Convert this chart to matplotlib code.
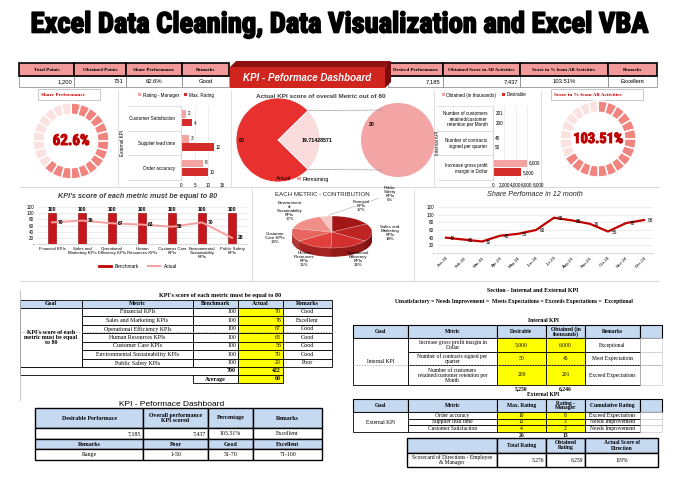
import matplotlib
matplotlib.use('Agg')
import matplotlib.pyplot as plt
import matplotlib.patheffects as pe
from matplotlib.patches import Rectangle, Polygon, ConnectionPatch
from matplotlib.lines import Line2D
import numpy as np

W, H = 680, 479

SANS = ['Liberation Sans', 'DejaVu Sans']
SERIF = ['Liberation Serif', 'DejaVu Serif']
NARROW = ['Liberation Sans Narrow', 'Roboto Condensed', 'DejaVu Sans']
plt.rcParams['font.family'] = SANS

# ---- data ----
title = 'Excel Data Cleaning, Data Visualization and Excel VBA'

top_left_heads = ['Total Points', 'Obtained Points', 'Share Performance', 'Remarks']
top_left_vals = ['1,200', '751', '62.6%', 'Good']
top_right_heads = ['Desired Performance', 'Obtained Score in All Activities',
                   'Score in % from All Activities', 'Remarks']
top_right_vals = ['7,185', '7,437', '103.51%', 'Excellent']

gauge_segments = 24
share_label = '62.6%'
share_filled = 15
score_label = '103.51%'
score_filled = 16

ext_metrics = ['Order accuracy', 'Supplier lead time', 'Customer Satisfaction']
ext_max = [10, 12, 4]
ext_mgr = [8, 3, 2]
ext_remarks = ['Exceed Expectations', 'Needs Improvement', 'Needs Improvement']

int_metrics = ['Increase gross profit margin in\nDollar',
               'Number of contracts signed per\nquarter',
               'Number of customers\nretained/customer retention per\nMonth']
int_short = ['Increase gross profit\nmargin in Dollar',
             'Number of contracts\nsigned per quarter',
             'Number of customers\nretained/customer\nretention per Month']
int_desirable = [5000, 50, 200]
int_obtained = [6000, 45, 201]
int_remarks = ['Exceptional', 'Meet Expectations', 'Exceed Expectations']

kpi_names = ['Financial KPIs', 'Sales and Marketing KPIs', 'Operational Efficiency KPIs',
             'Human Resources KPIs', 'Customer Care KPIs',
             'Environmental Sustainability KPIs', 'Public Safety KPIs']
kpi_ticks = ['Financial KPIs', 'Sales and\nMarketing KPIs', 'Operational\nEfficiency KPIs',
             'Human\nResources KPIs', 'Customer Care\nKPIs', 'Environmental\nSustainability\nKPIs',
             'Public Safety\nKPIs']
kpi_pie_labels = ['Financial\nKPIs', 'Sales and\nMarketing\nKPIs', 'Operational\nEfficiency\nKPIs',
                  'Human\nResources\nKPIs', 'Customer\nCare KPIs', 'Environment\nal\nSustainability\nKPIs',
                  'Public\nSafety\nKPIs']
kpi_bench = [100, 100, 100, 100, 100, 100, 100]
kpi_actual = [70, 76, 67, 63, 56, 70, 20]
kpi_remarks = ['Good', 'Excellent', 'Good', 'Good', 'Good', 'Good', 'Poor']
kpi_target = 80

months = ['Jan-24', 'Feb-24', 'Mar-24', 'Apr-24', 'May-24', 'Jun-24',
          'Jul-24', 'Aug-24', 'Sep-24', 'Oct-24', 'Nov-24', 'Dec-24']
share_month = [40, 35, 30, 45, 50, 60, 92, 85, 76, 56, 78, 86]

dash_heads = ['Desirable Performace', 'Overall performance\nKPI scored', 'Percentage', 'Remarks']
dash_vals = ['7,185', '7,437', '103.51%', 'Excellent']
range_heads = ['Remarks', 'Poor', 'Good', 'Excellent']
range_vals = ['Range', '1-50', '51-70', '71-100']

# ---- colours ----
PINK_HEAD = '#f2999a'
BLUE = '#c5d9f1'
YELLOW = '#ffff00'
LIGHT = '#f4a3a3'
DARK = '#d42b2b'
DRED = '#c00000'
GRID = '#d9d9d9'

fig = plt.figure(figsize=(6.8, 4.79), dpi=100)
fig.patch.set_facecolor('white')
bg = fig.add_axes([0, 0, 1, 1])
bg.set_xlim(0, W)
bg.set_ylim(H, 0)
bg.axis('off')
renderer = fig.canvas.get_renderer()


def px_axes(x0, y0, x1, y1):
    ax = fig.add_axes([x0 / W, 1 - y1 / H, (x1 - x0) / W, (y1 - y0) / H])
    ax.patch.set_alpha(0)
    return ax


def fit_width(t, width):
    bb = t.get_window_extent(renderer=renderer)
    t.set_fontsize(t.get_fontsize() * width / bb.width)


def cell(x0, y0, x1, y1, text='', fc='white', bold=False, ha='center', size=4.2,
         family=SERIF, lw=0.6, ec='black', color='black'):
    bg.add_patch(Rectangle((x0, y0), x1 - x0, y1 - y0, fc=fc, ec=ec, lw=lw))
    if text != '':
        tx = {'center': (x0 + x1) / 2, 'right': x1 - 2, 'left': x0 + 2}[ha]
        bg.text(tx, (y0 + y1) / 2, text, ha=ha, va='center', fontsize=size,
                fontweight='bold' if bold else 'normal', family=family, color=color,
                linespacing=1.0)


# ---- title ----
t = fig.text(0.5, 1 - 25 / H, title, ha='center', va='center', fontsize=28,
             fontweight='bold', family=NARROW, fontstretch='condensed',
             path_effects=[pe.withStroke(linewidth=1.2, foreground='black')])
fit_width(t, 618)

# ---- top tables ----
xs = [19, 74, 126, 182, 229]
for i in range(4):
    cell(xs[i], 76, xs[i + 1], 87, top_left_vals[i], ha='right' if i < 2 else 'center',
         size=4.2, family=SANS, lw=0.5, ec='#7f7f7f')
    cell(xs[i], 63, xs[i + 1], 76, top_left_heads[i], fc=PINK_HEAD, bold=True, size=3.6, lw=1.2)
xs = [388, 443, 520, 608, 657]
for i in range(4):
    cell(xs[i], 76, xs[i + 1], 87, top_right_vals[i], ha='right' if i < 2 else 'center',
         size=4.2, family=SANS, lw=0.5, ec='#7f7f7f')
    cell(xs[i], 63, xs[i + 1], 76, top_right_heads[i], fc=PINK_HEAD, bold=True, size=3.6, lw=1.2)

# banner
bg.add_patch(Polygon([[230, 67], [236, 61], [391, 61], [385, 67]], closed=True, fc='#8e1010', ec='none'))
bg.add_patch(Polygon([[385, 67], [391, 61], [391, 82], [385, 88]], closed=True, fc='#7a0c0c', ec='none'))
bg.add_patch(Rectangle((230, 67), 155, 21, fc='#d0241f', ec='none'))
bg.text(307, 78, 'KPI - Peformace Dashboard', color='white', fontsize=7, fontweight='bold',
        fontstyle='italic', ha='center', va='center')

# ---- panel separators ----
bg.plot([20, 658], [187, 187], color=GRID, lw=0.8)
bg.plot([20, 658], [281, 281], color=GRID, lw=0.8)
for x in [118, 231, 434, 541]:
    bg.plot([x, x], [90, 186], color=GRID, lw=0.6)
for x in [252, 414]:
    bg.plot([x, x], [189, 280], color=GRID, lw=0.6)


# ---- gauges ----
def gauge(cx, cy, r, filled, label, bx0, bx1, btxt, tw):
    bg.add_patch(Rectangle((bx0, 89), bx1 - bx0, 11, fc='white', ec='#bfbfbf', lw=0.6))
    bg.text(bx0 + 3, 94.5, btxt, color=DRED, fontsize=3.8, fontweight='bold', va='center', family=SERIF)
    ax = px_axes(cx - r, cy - r, cx + r, cy + r)
    cols = ['#f1847f' if i < filled else '#fbe1e0' for i in range(gauge_segments)]
    ax.pie([1] * gauge_segments, colors=cols, startangle=90, counterclock=False,
           wedgeprops=dict(width=0.3, edgecolor='white', linewidth=1.1))
    ax.set_xlim(-1, 1)
    ax.set_ylim(-1, 1)
    tt = ax.text(0, 0, label, color=DRED, fontsize=14, fontweight='bold', ha='center',
                 va='center', family=NARROW, fontstretch='condensed',
                 path_effects=[pe.withStroke(linewidth=0.7, foreground=DRED)])
    fit_width(tt, tw)


gauge(71, 141, 38, share_filled, share_label, 38, 100, 'Share Performance', 37)
gauge(598, 139, 38, score_filled, score_label, 551, 643, 'Score in % from All Activities', 50)


# ---- horizontal bar charts ----
def hbar(ax, cats, light, dark, xmax, xticks, fmt, ylab, ylab_x, sep_len, leg_labels, leg_x):
    y = np.arange(len(cats))
    b1 = ax.barh(y + 0.17, light, height=0.32, color=LIGHT)
    b2 = ax.barh(y - 0.17, dark, height=0.32, color=DARK)
    for yy, v in zip(y, light):
        ax.text(v + xmax * 0.04, yy + 0.2, fmt(v), va='center', fontsize=3.3)
    for yy, v in zip(y, dark):
        ax.text(v + xmax * 0.04, yy - 0.2, fmt(v), va='center', fontsize=3.3)
    ax.set_xlim(0, xmax)
    ax.set_ylim(-0.5, len(cats) - 0.5)
    ax.set_xticks(xticks)
    ax.set_xticklabels([fmt(v) for v in xticks], fontsize=3.3)
    ax.set_yticks(y)
    ax.set_yticklabels(cats, fontsize=3.3, linespacing=1.1)
    ax.set_yticks([-0.5, 0.5, 1.5, 2.5], minor=True)
    ax.tick_params(axis='y', which='major', length=0, pad=4)
    ax.tick_params(axis='y', which='minor', length=sep_len, color=GRID, width=0.6)
    ax.tick_params(axis='x', length=0, pad=2)
    ax.grid(axis='x', color='#e6e6e6', lw=0.5)
    ax.set_axisbelow(True)
    for s in ['top', 'right', 'bottom']:
        ax.spines[s].set_visible(False)
    ax.spines['left'].set_color(GRID)
    ax.set_ylabel(ylab, fontsize=3.3)
    ax.yaxis.set_label_coords(ylab_x, 0.5)
    fig.legend([b1, b2], leg_labels, loc='center', bbox_to_anchor=(leg_x / W, 1 - 95 / H),
               ncol=2, frameon=False, fontsize=3.3, handlelength=0.6, handleheight=0.6,
               columnspacing=1.2, handletextpad=0.4)


ax = px_axes(181, 106, 222, 180)
hbar(ax, ext_metrics, ext_mgr, ext_max, 15, [0, 5, 10, 15], lambda v: f'{v:,}',
     'External KPI', (125 - 181) / 41, 38, ['Rating - Manager', 'Max. Rating'], 176)

ax = px_axes(493, 106, 538, 180)
hbar(ax, int_short, int_obtained, int_desirable, 8000, [0, 2000, 4000, 6000, 8000],
     lambda v: f'{v:,}', 'Internal KPI', (440 - 493) / 45, 40,
     ['Obtained (in thousands)', 'Desirable'], 484)

# ---- pie of pie ----
actual_avg = np.mean(kpi_actual)
remaining = kpi_target - actual_avg
frac = remaining / kpi_target
ax1 = px_axes(236, 98, 320, 182)
w1, tx1 = ax1.pie([actual_avg, remaining], colors=['#e8312f', '#fbdcdc'],
                  startangle=180 * frac, labels=[f'{actual_avg:.0f}', f'{remaining:.8f}'],
                  labeldistance=0.6, textprops=dict(fontsize=3.8, fontweight='bold'),
                  wedgeprops=dict(edgecolor='white', linewidth=0.5))
tx1[0].set_position((-0.8, 0))
tx1[1].set_position((0.56, 0))
ax1.set_xlim(-1, 1)
ax1.set_ylim(-1, 1)
ax2 = px_axes(361, 103, 435, 177)
ax2.pie([remaining], colors=['#f3a4a4'], labels=[f'{remaining:.0f}'], labeldistance=0.0,
        textprops=dict(fontsize=3.8, fontweight='bold'))
ax2.texts[0].set_position((-0.62, 0.42))
ax2.set_xlim(-1, 1)
ax2.set_ylim(-1, 1)
ang = np.deg2rad(180 * frac)
for sgn in [1, -1]:
    con = ConnectionPatch(xyA=(np.cos(ang), sgn * np.sin(ang)), coordsA=ax1.transData,
                          xyB=(-0.43, sgn * 0.81), coordsB=ax2.transData,
                          color='#8c8c8c', lw=0.5, linestyle=(0, (2, 1.5)))
    fig.add_artist(con)
bg.text(321, 96, 'Actual KPI score of overall Metric out of 80', fontsize=4.6,
        ha='center', va='center', fontweight='bold', color='#404040')
fig.legend([Rectangle((0, 0), 1, 1, fc='#e8312f'), Rectangle((0, 0), 1, 1, fc='#f3a4a4')],
           ['Actual', 'Remaining'], loc='center', bbox_to_anchor=(300 / W, 1 - 179 / H),
           ncol=2, frameon=False, fontsize=4, handlelength=0.6, handleheight=0.6,
           columnspacing=1.0, handletextpad=0.3)

# ---- KPI bar + line ----
ax = px_axes(37, 207, 247, 244)
x = np.arange(len(kpi_names))
ax.bar(x, kpi_bench, width=0.28, color='#c8161d', edgecolor='#8b0000', lw=0.4)
ax.plot(x, kpi_actual, color='#f4a0a0', lw=1.4)
for xi, b, a in zip(x, kpi_bench, kpi_actual):
    ax.text(xi, b + 4, f'{b}', ha='center', va='bottom', fontsize=3.6, fontweight='bold')
    ax.text(xi + 0.18, a, f'{a}', ha='left', va='center', fontsize=3.6, fontweight='bold')
ax.set_xlim(-0.5, len(kpi_names) - 0.5)
ax.set_ylim(0, 120)
ax.set_yticks(range(0, 121, 20))
ax.set_yticklabels(['-'] + [str(v) for v in range(20, 121, 20)], fontsize=3.3)
ax.set_xticks(x)
ax.set_xticklabels(kpi_ticks, fontsize=3.1, linespacing=1.0)
ax.tick_params(length=0, pad=2)
ax.grid(axis='y', color='#e6e6e6', lw=0.5)
ax.set_axisbelow(True)
for s in ['top', 'right', 'left']:
    ax.spines[s].set_visible(False)
ax.spines['bottom'].set_color(GRID)
bg.text(138, 196, "KPI's score of each metric must be equal to 80", fontsize=5.2,
        fontstyle='italic', fontweight='bold', ha='center', va='center', color='#404040')
fig.legend([Line2D([], [], color='#c00000', lw=2), Line2D([], [], color='#f4a0a0', lw=1.4)],
           ['Benchmark', 'Actual'], loc='center', bbox_to_anchor=(138 / W, 1 - 266 / H),
           ncol=2, frameon=False, fontsize=3.4, handlelength=2.5, columnspacing=2.0)

# ---- 3D pie ----
ax = px_axes(262, 200, 402, 276)
top_cols = ['#a31616', '#bf2424', '#d32f2f', '#e2413b', '#e86560', '#f08e8a', '#f7c6c4']
side_cols = ['#6e0c0c', '#821212', '#941a1a', '#a32222', '#ad3a36', '#b55c58', '#c08c8a']
for d in np.linspace(0.55, 0.03, 14):
    ax.pie(kpi_actual, colors=side_cols, startangle=90, counterclock=False, center=(0, -d))
wedges, _ = ax.pie(kpi_actual, colors=top_cols, startangle=90, counterclock=False,
                   wedgeprops=dict(edgecolor='#ffffff', linewidth=0.2))
total = sum(kpi_actual)
for w_, lab, v in zip(wedges, kpi_pie_labels, kpi_actual):
    th = np.deg2rad((w_.theta1 + w_.theta2) / 2)
    txt = f'{lab}\n{v / total:.0%}'
    if v / total < 0.08:
        ax.annotate(txt, xy=(np.cos(th), np.sin(th)), xytext=(1.45, 2.35), fontsize=3.2,
                    ha='center', va='center', linespacing=1.0,
                    arrowprops=dict(arrowstyle='-', color='#a6a6a6', lw=0.4))
    else:
        ax.text(1.45 * np.cos(th), 1.9 * np.sin(th), txt, fontsize=3.2, ha='center',
                va='center', linespacing=1.0)
ax.set_aspect('auto')
ax.set_xlim(-1.75, 1.75)
ax.set_ylim(-2.75, 2.0)
bg.text(322, 195, 'EACH METRIC - CONTRIBUTION', fontsize=4.4, ha='center', va='center',
        color='#262626')

# ---- line chart ----
ax = px_axes(437, 207, 653, 253)
x = np.arange(len(months))
ax.plot(x, share_month, color='#c00000', lw=1.6)
for xi, v in zip(x, share_month):
    ax.text(xi + 0.2, v - 2, f'{v}', fontsize=3.4, ha='left', va='center')
ax.set_xlim(-0.5, len(months) - 0.5)
ax.set_ylim(0, 120)
ax.set_yticks(range(0, 121, 20))
ax.set_yticklabels(['-'] + [str(v) for v in range(20, 121, 20)], fontsize=3.3)
ax.set_xticks(x)
ax.set_xticklabels(months, fontsize=3.2, rotation=45, ha='right', rotation_mode='anchor')
ax.tick_params(length=0, pad=2)
ax.grid(axis='y', color='#e6e6e6', lw=0.5)
ax.set_axisbelow(True)
for s in ['top', 'right', 'left']:
    ax.spines[s].set_visible(False)
ax.spines['bottom'].set_color(GRID)
bg.text(535, 195, 'Share Perfomace in 12 month', fontsize=5.2, fontstyle='italic',
        ha='center', va='center', color='#262626')

# ---- bottom-left table ----
bg.plot([20, 20], [290, 400], color='#bfbfbf', lw=0.6)
bg.text(220, 296, "KPI's score of each metric must be equal to 80", fontsize=4.4,
        fontweight='bold', family=SERIF, ha='center', va='center')
cx = [20, 82, 193, 238, 283, 332]
heads = ['Goal', 'Metric', 'Benchmark', 'Actual', 'Remarks']
for i, h in enumerate(heads):
    cell(cx[i], 300, cx[i + 1], 307.5, h, fc=BLUE, bold=True, size=4.2)
rh = 8.5
for r, (n, b, a, rem) in enumerate(zip(kpi_names, kpi_bench, kpi_actual, kpi_remarks)):
    y0 = 307.5 + r * rh
    cell(cx[1], y0, cx[2], y0 + rh, n, size=4.2)
    cell(cx[2], y0, cx[3], y0 + rh, f'{b}', ha='right', size=4.2)
    cell(cx[3], y0, cx[4], y0 + rh, f'{a}', fc=YELLOW, ha='right', size=4.2)
    cell(cx[4], y0, cx[5], y0 + rh, rem, size=4.2)
yb = 307.5 + len(kpi_names) * rh
cell(cx[0], 307.5, cx[1], yb, "KPI's score of each\nmetric must be equal\nto 80", bold=True, size=4.2)
cell(cx[0], yb, cx[3], yb + 8, '', lw=0.6)
bg.text(cx[3] - 2, yb + 4, f'{sum(kpi_bench)}', ha='right', va='center', fontsize=4.2,
        fontweight='bold', family=SERIF)
cell(cx[3], yb, cx[4], yb + 8, f'{sum(kpi_actual)}', fc=YELLOW, ha='right', bold=True, size=4.2)
cell(cx[2], yb + 8, cx[3], yb + 16, 'Average', bold=True, size=4.2)
cell(cx[3], yb + 8, cx[4], yb + 16, f'{actual_avg:.0f}', fc=YELLOW, ha='right', bold=True, size=4.2)
bg.plot([20, 335], [332, 332], color='#9a9a9a', lw=0.5, linestyle=(0, (2, 2)))

# ---- dashboard table ----
bg.text(172, 404, 'KPI - Peformace Dashboard', fontsize=6, ha='center', va='center')
dx = [35, 143, 208, 253, 322]
for i in range(4):
    cell(dx[i], 408, dx[i + 1], 428, dash_heads[i], fc=BLUE, bold=True, size=4.2, lw=1.0)
    cell(dx[i], 428, dx[i + 1], 439, dash_vals[i], ha='right' if i < 2 else 'center', size=4.2, lw=1.0)
    cell(dx[i], 439, dx[i + 1], 449, range_heads[i], fc=BLUE, bold=True, size=4.2, lw=1.0)
    cell(dx[i], 449, dx[i + 1], 460, range_vals[i], size=4.2, lw=1.0)

# ---- right tables ----
bg.text(533, 291, 'Section - Internal and External KPI', fontsize=4.3, fontweight='bold',
        family=SERIF, ha='center', va='center')
bg.text(514, 302, 'Unsatisfactory = Needs Improvement =  Meets Expectations = Exceeds Expectations = '
        ' Exceptional', fontsize=4.1, fontweight='bold', family=SERIF, ha='center', va='center')
bg.text(543, 321, 'Internal KPI', fontsize=4.1, fontweight='bold', family=SERIF, ha='center', va='center')
rx = [353, 408, 497, 546, 585, 640, 662]
for i, h in enumerate(['Goal', 'Metric', 'Desirable', 'Obtained (in\nthousands)', 'Remarks', '']):
    cell(rx[i], 325, rx[i + 1], 338, h, fc=BLUE, bold=True, size=4.0, lw=0.8)
ry = [338, 352, 365, 385]
for r in range(3):
    cell(rx[1], ry[r], rx[2], ry[r + 1], int_metrics[r], size=4.0)
    cell(rx[2], ry[r], rx[3], ry[r + 1], f'{int_desirable[r]:,}', fc=YELLOW, size=4.0)
    cell(rx[3], ry[r], rx[4], ry[r + 1], f'{int_obtained[r]:,}', fc=YELLOW, size=4.0)
    cell(rx[4], ry[r], rx[5], ry[r + 1], int_remarks[r], size=4.0)
    cell(rx[5], ry[r], rx[6], ry[r + 1], '', lw=0.4, ec='#bfbfbf')
cell(rx[0], ry[0], rx[1], ry[3], 'Internal KPI', size=4.0)
bg.text((rx[2] + rx[3]) / 2, 388.5, f'{sum(int_desirable):,}', fontsize=4.1, fontweight='bold',
        family=SERIF, ha='center', va='center')
bg.text((rx[3] + rx[4]) / 2, 388.5, f'{sum(int_obtained):,}', fontsize=4.1, fontweight='bold',
        family=SERIF, ha='center', va='center')
bg.plot([353, 662], [365, 365], color='#9a9a9a', lw=0.5, linestyle=(0, (2, 2)))

bg.text(543, 394, 'External KPI', fontsize=4.1, fontweight='bold', family=SERIF, ha='center', va='center')
for i, h in enumerate(['Goal', 'Metric', 'Max. Rating', 'Rating -\nManager', 'Cumulative Rating', '']):
    cell(rx[i], 399, rx[i + 1], 412, h, fc=BLUE, bold=True, size=4.0, lw=0.8)
ey = [412, 418.5, 425, 432]
for r in range(3):
    cell(rx[1], ey[r], rx[2], ey[r + 1], ext_metrics[r], size=4.0)
    cell(rx[2], ey[r], rx[3], ey[r + 1], f'{ext_max[r]}', fc=YELLOW, size=4.0)
    cell(rx[3], ey[r], rx[4], ey[r + 1], f'{ext_mgr[r]}', fc=YELLOW, size=4.0)
    cell(rx[4], ey[r], rx[5], ey[r + 1], ext_remarks[r], size=4.0)
    cell(rx[5], ey[r], rx[6], ey[r + 1], '', lw=0.4, ec='#bfbfbf')
cell(rx[0], ey[0], rx[1], ey[3], 'External KPI', size=4.0)
bg.text((rx[2] + rx[3]) / 2, 435.5, f'{sum(ext_max)}', fontsize=4.1, fontweight='bold',
        family=SERIF, ha='center', va='center')
bg.text((rx[3] + rx[4]) / 2, 435.5, f'{sum(ext_mgr)}', fontsize=4.1, fontweight='bold',
        family=SERIF, ha='center', va='center')

total_rating = sum(int_desirable) + sum(ext_max)
obtained_rating = sum(int_obtained) + sum(ext_mgr)
sx = [407, 497, 546, 585, 658]
for i, h in enumerate(['', 'Total Rating', 'Obtained\nRating', 'Actual Score of\nDirection']):
    cell(sx[i], 438, sx[i + 1], 453, h, fc=BLUE, bold=True, size=4.0, lw=1.0)
svals = ['Scorecard of Directions - Employee\n& Manager', f'{total_rating:,}', f'{obtained_rating:,}',
         f'{obtained_rating / total_rating:.0%}']
for i, v in enumerate(svals):
    cell(sx[i], 453, sx[i + 1], 467, v, ha='right' if i in (1, 2) else 'center', size=4.0, lw=1.0)

fig.savefig('out.png', dpi=100, facecolor='white')
